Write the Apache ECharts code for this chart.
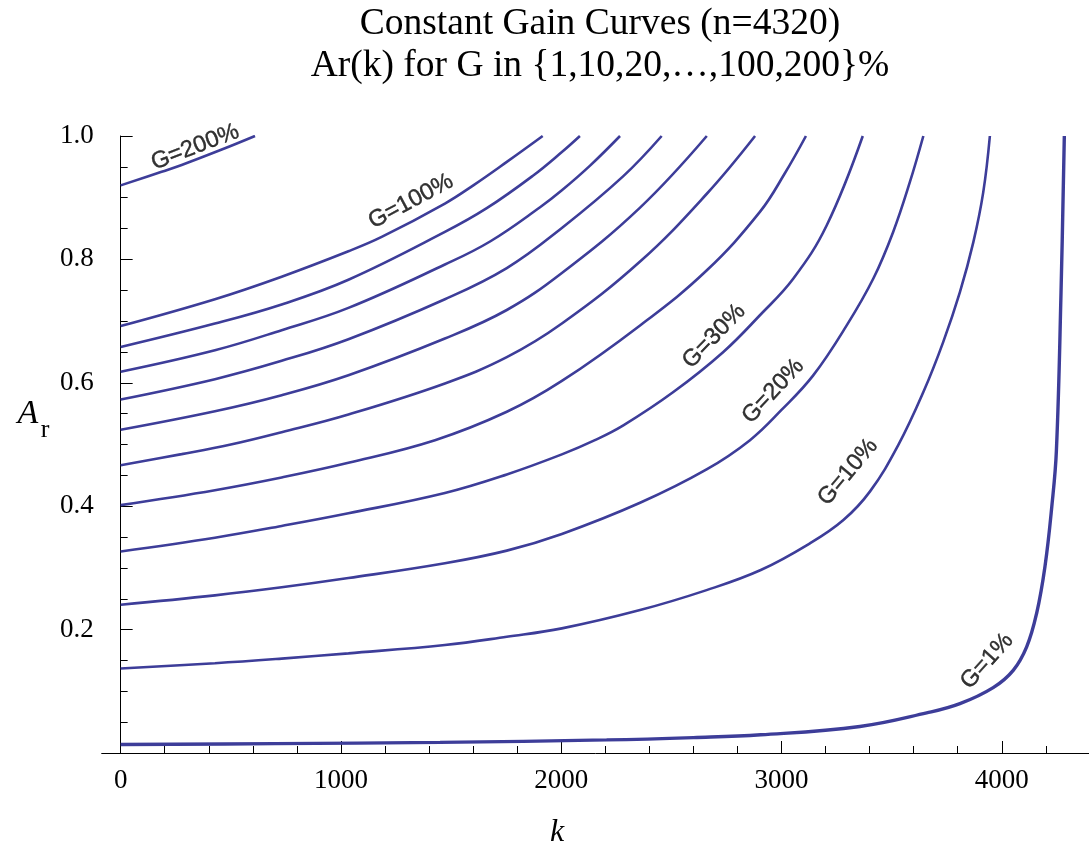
<!DOCTYPE html>
<html><head><meta charset="utf-8">
<script src="https://cdn.jsdelivr.net/npm/echarts@6/dist/echarts.min.js"></script>
<style>html,body{margin:0;padding:0;background:#fff}#c{width:1089px;height:854px}</style>
</head><body><div id="c"></div>
<script>
// ---- data: [k, Ar] ----
const g200 = [[0,0.920],[186,0.942],[277,0.953],[459,0.978],[610,1.0]];
const g100 = [[0,0.692],[428,0.7355],[731,0.772],[1034,0.8132],[1185,0.8364],[1472,0.8905],[1601,0.920],[1753,0.958],[1916,1.0]];
const g90  = [[0,0.658],[428,0.696],[731,0.727],[1034,0.767],[1472,0.8445],[1662,0.883],[1873,0.936],[2003,0.974],[2085,1.0]];
const g80  = [[0,0.618],[428,0.6528],[731,0.6853],[1034,0.7214],[1472,0.7917],[1677,0.829],[1904,0.8845],[2003,0.912],[2131,0.952],[2267,1.0]];
const g70  = [[0,0.573],[428,0.6059],[731,0.6356],[1034,0.6707],[1472,0.7355],[1753,0.786],[2003,0.851],[2282,0.935],[2456,1.0]];
const g60  = [[0,0.524],[428,0.554],[731,0.58],[1034,0.6123],[1472,0.6718],[1753,0.718],[2003,0.778],[2358,0.884],[2661,1.0]];
const g50  = [[0,0.4665],[277,0.4844],[500,0.500],[731,0.52],[1034,0.5487],[1472,0.599],[1753,0.6415],[2003,0.696],[2358,0.7965],[2660,0.906],[2880,1.0]];
const g40  = [[0,0.4018],[428,0.426],[731,0.4466],[1034,0.4703],[1427,0.507],[1753,0.553],[2003,0.603],[2358,0.693],[2660,0.782],[2902,0.877],[3016,0.940],[3111,1.0]];
const g30  = [[0,0.3267],[428,0.349],[731,0.368],[1034,0.3885],[1472,0.4215],[1753,0.4515],[2003,0.484],[2153,0.507],[2282,0.531],[2509,0.585],[2736,0.650],[2902,0.7095],[3054,0.769],[3205,0.855],[3369,1.0]];
const g20  = [[0,0.2403],[428,0.2555],[731,0.2685],[1034,0.2835],[1472,0.3075],[1753,0.328],[2003,0.355],[2358,0.4055],[2660,0.4596],[2857,0.507],[3000,0.556],[3144,0.612],[3296,0.693],[3417,0.769],[3507,0.8445],[3583,0.9255],[3644,1.0]];
const g10  = [[0,0.137],[428,0.1455],[731,0.153],[1034,0.1615],[1472,0.175],[1753,0.1884],[2003,0.202],[2358,0.2317],[2660,0.264],[2906,0.2965],[3129,0.3397],[3281,0.3775],[3402,0.424],[3530,0.499],[3644,0.585],[3734,0.666],[3810,0.747],[3871,0.828],[3916,0.909],[3946,1.0]];
const g1   = [[0,0.0138],[700,0.0152],[1450,0.0172],[2206,0.0212],[2600,0.025],[2906,0.0295],[3356,0.043],[3659,0.065],[3810,0.08],[3961,0.106],[4052,0.134],[4113,0.172],[4158,0.226],[4196,0.302],[4227,0.399],[4248,0.49],[4269,0.747],[4284,1.0]];

// curve label texts and their anchor [k, Ar] and angle
const labelTexts  = ['G=200%','G=100%','G=30%','G=20%','G=10%','G=1%'];
const labelAnchor = [[338,0.982],[1318,0.894],[2694,0.6755],[2962,0.5864],[3302,0.4552],[3933,0.149]];
const labelAngle  = [21, 28, 46, 47, 50, 48];

// tick values
const kMajor = [0,1000,2000,3000,4000];
const kMinor = [200,400,600,800,1200,1400,1600,1800,2200,2400,2600,2800,3200,3400,3600,3800,4200];
const titleLines = ['Constant Gain Curves (n=4320)','Ar(k) for G in {1,10,20,\u2026,100,200}%'];

const LINE = '#3d3d99';
const SERIF = '"Liberation Serif", "DejaVu Serif", serif';
const SANS = '"Liberation Sans", Arial, sans-serif';

const curveList = [g200,g100,g90,g80,g70,g60,g50,g40,g30,g20,g10,g1];
const series = curveList.map((d, i) => ({
  type: 'line', data: d, showSymbol: false, symbol: 'none',
  smooth: 0.4, clip: true,
  lineStyle: { color: LINE, width: i === curveList.length - 1 ? 3.4 : 2.6 },
  silent: true, z: 2
}));
series.push({
  type: 'scatter', symbolSize: 0, silent: true, z: 5,
  itemStyle: { color: 'rgba(0,0,0,0)' },
  data: labelAnchor.map((p, i) => ({
    value: p,
    label: { show: true, position: 'inside', formatter: labelTexts[i], rotate: labelAngle[i],
             fontFamily: SANS, fontSize: 23.5, color: '#000',
             textBorderColor: '#000', textBorderWidth: 0.4 }
  }))
});

const chart = echarts.init(document.getElementById('c'));
chart.setOption({
  animation: false,
  grid: { left: 101.7, right: 0, top: 136, bottom: 101 },
  xAxis: [{
    type: 'value', min: -86, max: 4396,
    axisLine: { onZero: true, lineStyle: { color: '#000', width: 1 } },
    axisTick: { inside: true, length: 12, customValues: kMajor, lineStyle: { color: '#000' } },
    axisLabel: { customValues: kMajor, margin: 14, fontFamily: SERIF, fontSize: 27, color: '#000',
                 formatter: v => String(v) },
    splitLine: { show: false }
  }, {
    type: 'value', min: -86, max: 4396, position: 'bottom',
    axisLine: { show: false },
    axisTick: { inside: true, length: 7, customValues: kMinor, lineStyle: { color: '#000' } },
    axisLabel: { show: false },
    splitLine: { show: false }
  }],
  yAxis: {
    type: 'value', min: 0, max: 1, interval: 0.2,
    axisLine: { show: true, onZero: true, lineStyle: { color: '#000', width: 1 } },
    axisTick: { show: true, inside: true, length: 12, lineStyle: { color: '#000' } },
    minorTick: { show: true, splitNumber: 4, length: 7, lineStyle: { color: '#000' } },
    axisLabel: { margin: 8, fontFamily: SERIF, fontSize: 27, color: '#000',
                 formatter: v => (v === 0 ? '' : v.toFixed(1)) },
    splitLine: { show: false }
  },
  graphic: [
    { type: 'text', x: 600, y: 24, style: { text: titleLines[0], fontFamily: SERIF, fontSize: 37.5, fill: '#000', align: 'center', verticalAlign: 'middle' } },
    { type: 'text', x: 600, y: 66, style: { text: titleLines[1], fontFamily: SERIF, fontSize: 37.5, fill: '#000', align: 'center', verticalAlign: 'middle' } },
    { type: 'text', x: 28, y: 414, style: { text: 'A', fontFamily: SERIF, fontStyle: 'italic', fontSize: 34, fill: '#000', align: 'center', verticalAlign: 'middle' } },
    { type: 'text', x: 45, y: 430, style: { text: 'r', fontFamily: SERIF, fontSize: 26, fill: '#000', align: 'center', verticalAlign: 'middle' } },
    { type: 'text', x: 557, y: 833, style: { text: 'k', fontFamily: SERIF, fontStyle: 'italic', fontSize: 32, fill: '#000', align: 'center', verticalAlign: 'middle' } }
  ],
  series: series
});
</script></body></html>
